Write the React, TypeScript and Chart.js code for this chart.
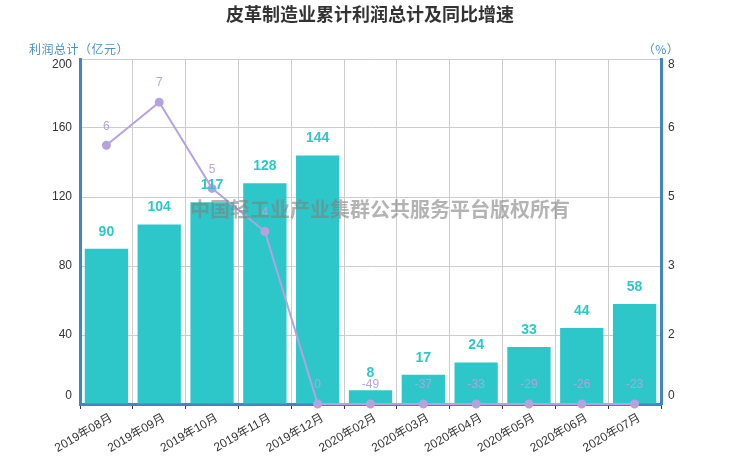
import React, { useEffect, useRef } from "react";
import { Chart, registerables } from "chart.js";

Chart.register(...registerables);

const categories = [
  "2019年08月",
  "2019年09月",
  "2019年10月",
  "2019年11月",
  "2019年12月",
  "2020年02月",
  "2020年03月",
  "2020年04月",
  "2020年05月",
  "2020年06月",
  "2020年07月",
];
const profitTotals = [90, 104, 117, 128, 144, 8, 17, 24, 33, 44, 58];
const growthRates = [6, 7, 5, 4, 0, -49, -37, -33, -29, -26, -23];
const leftTicks = [0, 40, 80, 120, 160, 200];
const rightTicks = [0, 1.6, 3.2, 4.8, 6.4, 8];

const TITLE = "皮革制造业累计利润总计及同比增速";
const LEFT_NAME = "利润总计（亿元）";
const RIGHT_NAME = "（%）";
const WATERMARK = "中国轻工业产业集群公共服务平台版权所有";

const FONT = '"Liberation Sans", Arial, "Noto Sans CJK SC", sans-serif';
const CJK = '"Noto Sans CJK SC", "Liberation Sans", sans-serif';
const BAR_COLOR = "#2ec7c9";
const LINE_COLOR = "#b6a2de";
const AXIS_COLOR = "#3f86c2";
const NAME_COLOR = "#4a90c8";

const overlayPlugin = {
  id: "overlay",
  afterDatasetsDraw(chart: any) {
    const ctx = chart.ctx as CanvasRenderingContext2D;
    const area = chart.chartArea;
    ctx.save();
    ctx.textAlign = "center";
    ctx.textBaseline = "middle";

    // bar labels
    ctx.font = "bold 14px " + FONT;
    ctx.fillStyle = BAR_COLOR;
    chart.getDatasetMeta(0).data.forEach((b: any, i: number) => {
      ctx.fillText(String(profitTotals[i]), b.x, b.y - 17);
    });

    // line labels
    ctx.font = "12px " + FONT;
    ctx.fillStyle = LINE_COLOR;
    chart.getDatasetMeta(1).data.forEach((p: any, i: number) => {
      ctx.fillText(String(growthRates[i]), p.x, p.y - 19);
    });

    // y tick labels
    ctx.font = "12px " + FONT;
    ctx.fillStyle = "#333";
    const ys = chart.scales.y;
    ctx.textAlign = "right";
    leftTicks.forEach((v) => {
      let y = ys.getPixelForValue(v);
      if (v === ys.max) y += 6;
      if (v === ys.min) y -= 8;
      ctx.fillText(String(v), area.left - 8, y);
    });
    const ys1 = chart.scales.y1;
    ctx.textAlign = "left";
    rightTicks.forEach((v) => {
      let y = ys1.getPixelForValue(v);
      if (v === ys1.max) y += 6;
      if (v === ys1.min) y -= 8;
      ctx.fillText(String(Math.round(v)), area.right + 7, y);
    });

    // watermark
    ctx.textAlign = "center";
    ctx.font = "bold 20px " + CJK;
    ctx.fillStyle = "rgba(128,128,128,0.6)";
    ctx.fillText(WATERMARK, 380, 209);

    // title
    ctx.font = "bold 18px " + CJK;
    ctx.fillStyle = "#333";
    ctx.fillText(TITLE, 370, 14);

    // axis names
    ctx.font = "12px " + CJK;
    ctx.fillStyle = NAME_COLOR;
    (ctx as any).letterSpacing = "0.5px";
    ctx.fillText(LEFT_NAME, area.left - 1, 49);
    ctx.fillText(RIGHT_NAME, area.right, 49);
    ctx.restore();
  },
};

export default function App() {
  const ref = useRef<HTMLCanvasElement | null>(null);

  useEffect(() => {
    if (!ref.current) return;
    const chart = new Chart(ref.current, {
      type: "bar",
      data: {
        labels: categories,
        datasets: [
          {
            type: "bar",
            label: "利润总计",
            data: profitTotals,
            backgroundColor: BAR_COLOR,
            barPercentage: 0.82,
            categoryPercentage: 1,
            yAxisID: "y",
            order: 2,
          },
          {
            type: "line",
            label: "同比增速",
            data: growthRates.map((v) => Math.max(v, 0)),
            borderColor: LINE_COLOR,
            backgroundColor: LINE_COLOR,
            pointBackgroundColor: LINE_COLOR,
            pointBorderColor: LINE_COLOR,
            borderWidth: 2,
            pointRadius: 3.5,
            tension: 0,
            yAxisID: "y1",
            order: 1,
            clip: false as any,
          } as any,
        ],
      },
      options: {
        responsive: false,
        animation: false,
        layout: { padding: { top: 59, left: 0, right: 0, bottom: 0 } },
        plugins: {
          legend: { display: false },
          title: { display: false },
          tooltip: { enabled: false },
        },
        scales: {
          x: {
            offset: true,
            grid: {
              offset: true,
              color: "#cccccc",
              lineWidth: 1,
              tickColor: "#333",
              tickLength: 5,
            },
            border: { color: AXIS_COLOR, width: 3 },
            ticks: {
              color: "#333",
              font: { size: 12, family: FONT },
              minRotation: 30,
              maxRotation: 30,
              autoSkip: false,
              padding: 2,
              labelOffset: 5,
            },
            afterFit: (s: any) => {
              s.height = 58;
            },
          },
          y: {
            position: "left",
            min: 0,
            max: 200,
            ticks: { stepSize: 40, display: false },
            grid: { color: "#cccccc", drawTicks: false },
            border: { color: AXIS_COLOR, width: 3 },
            afterFit: (s: any) => {
              s.width = 80;
            },
          },
          y1: {
            position: "right",
            min: 0,
            max: 8,
            ticks: { stepSize: 1.6, display: false },
            grid: { drawOnChartArea: false, drawTicks: false },
            border: { color: AXIS_COLOR, width: 3 },
            afterFit: (s: any) => {
              s.width = 79;
            },
          },
        },
      } as any,
      plugins: [overlayPlugin],
    });
    return () => chart.destroy();
  }, []);

  return (
    <div style={{ position: "absolute", left: 0, top: 0, width: 740, height: 462, background: "#fff" }}>
      <canvas ref={ref} width={740} height={462} style={{ display: "block" }} />
    </div>
  );
}
